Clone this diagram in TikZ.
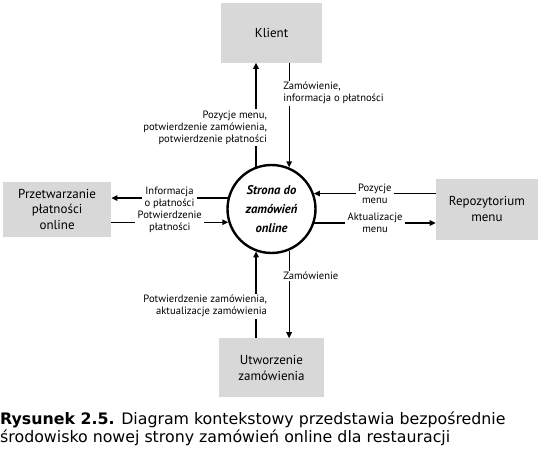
\documentclass[tikz,border=0pt]{standalone}
\usepackage{fontspec}
\setmainfont{PT Sans}
\newfontfamily\captfont{DejaVu Sans}
\usetikzlibrary{arrows.meta,positioning}
\definecolor{boxgray}{RGB}{216,216,216}

\begin{document}
\begin{tikzpicture}[x=1pt,y=1pt,
  extbox/.style={rectangle,fill=boxgray,align=center,font=\fontsize{13}{15.5}\selectfont},
  procnode/.style={circle,draw,line width=2.4pt,minimum size=88pt,align=center,
                   font=\fontsize{12.6}{19}\selectfont\bfseries\itshape},
  flow/.style={-{Triangle[length=6pt,width=5.5pt]},line width=1.3pt},
  flowlbl/.style={fill=white,inner xsep=2.5pt,inner ysep=1.5pt,align=center,
                  font=\fontsize{10.6}{12}\selectfont}
]
\useasboundingbox (0,0) rectangle (539,-452);

\node[procnode] (web) at (271.5,-209) {Strona do\\zamówień\\online};
\node[extbox, minimum width=101pt, minimum height=60pt, above=101pt of web] (klient) {Klient};
\node[extbox, minimum width=108pt, minimum height=55pt, left=115pt of web] (platn)
    {Przetwarzanie\\płatności\\online};
\node[extbox, minimum width=102pt, minimum height=61pt, right=119pt of web] (repo)
    {Repozytorium\\menu};
\node[extbox, minimum width=105pt, minimum height=59pt, below=84pt of web] (zamow)
    {Utworzenie\\zamówienia};

% klient
\draw[flow] (web.110) -- node[flowlbl,pos=0.375,anchor=east,xshift=14pt,align=right] (lblmenu)
    {Pozycje menu,\\potwierdzenie zamówienia,\\potwierdzenie płatności} (web.110 |- klient.south);
\draw[flow] (klient.south -| web.67) -- node[flowlbl,pos=0.29,anchor=west,xshift=-9pt,align=left] (lblorder)
    {Zamówienie,\\informacja o płatności} (web.67);

% platnosci
\draw[flow] (web.166) -- node[flowlbl] (lblinfo) {Informacja\\o płatności} (web.166 -| platn.east);
\draw[flow] (web.197 -| platn.east) -- node[flowlbl] (lblpotw) {Potwierdzenie\\płatności} (web.197);

% repozytorium
\draw[flow] (web.20 -| repo.west) -- node[flowlbl] (lblpoz) {Pozycje\\menu} (web.20);
\draw[flow] (web.342) -- node[flowlbl] (lblakt) {Aktualizacje\\menu} (web.342 -| repo.west);

% utworzenie
\draw[flow] (zamow.north -| web.250) -- node[flowlbl,pos=0.37,anchor=east,xshift=14pt,align=right] (lblconf)
    {Potwierdzenie zamówienia,\\aktualizacje zamówienia} (web.250);
\draw[flow] (web.293) -- node[flowlbl,pos=0.29,anchor=west,xshift=-9pt] (lblzam)
    {Zamówienie} (web.293 |- zamow.north);

\node[anchor=north west,inner sep=0pt,align=left,font=\captfont\fontsize{15.8}{17.5}\selectfont] (caption) at (0,-412)
    {\textbf{Rysunek 2.5.} Diagram kontekstowy przedstawia bezpośrednie\\środowisko nowej strony zamówień online dla restauracji};
\end{tikzpicture}
\end{document}
